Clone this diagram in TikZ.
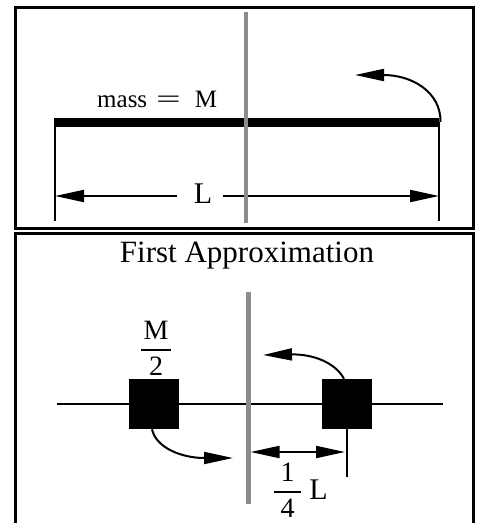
\documentclass[tikz,border=0pt]{standalone}
\usepackage{fontspec}
\setmainfont{Liberation Serif}
\usetikzlibrary{arrows.meta}
\definecolor{axisgray}{gray}{0.55}
\newcommand{\myvfrac}[3]{$\displaystyle{\hbox to #1{\hss#2\hss}\above 2pt\hbox to #1{\hss#3\hss}}$}
\begin{document}
\begin{tikzpicture}[x=1pt,y=-1pt,
  frame/.style={line width=3pt},
  axisline/.style={draw=axisgray,line width=4.5pt},
  wire/.style={line width=2pt},
  arr/.style={line width=2pt,-{Triangle[length=29pt,width=12pt]}},
  dimarr/.style={line width=2pt,{Triangle[length=29pt,width=12pt]}-{Triangle[length=29pt,width=12pt]}},
  massbox/.style={fill=black,minimum size=50pt,inner sep=0pt},
  lbl/.style={font=\fontsize{30}{36}\selectfont,inner sep=0pt,anchor=base},
  titlelbl/.style={font=\fontsize{31}{37}\selectfont,inner sep=0pt,anchor=base},
  smalllbl/.style={font=\fontsize{25}{30}\selectfont,inner sep=0pt,anchor=base west},
  fraclbl/.style={font=\fontsize{28}{33}\selectfont,inner sep=0pt}]
\useasboundingbox (0,0) rectangle (482,523);
% frames
\draw[frame] (15.5,7.5) rectangle (473.5,228);
\draw[frame] (15.5,523) -- (15.5,233) -- (473.5,233) -- (473.5,523);
% ---------- top panel ----------
\node[fill=black,minimum width=385pt,minimum height=9pt,inner sep=0pt] (rod) at (246.5,122.5) {};
\node[smalllbl] (masslbl) at (97,107) {mass\hspace{9pt}\scalebox{1.75}[1]{=}\hspace{14pt}M};
\coordinate (tlb) at (55,221);
\coordinate (trb) at (439,221);
\coordinate (tlt) at (55,122);
\coordinate (trt) at (439,122);
\draw[wire] (tlt) -- (tlb);
\draw[wire] (trt) -- (trb);
\node[lbl] (Ltop) at (203,203) {L};
\coordinate (dl1) at (177,196);
\coordinate (dl0) at (55,196);
\coordinate (dr1) at (223,196);
\coordinate (dr0) at (439,196);
\draw[arr] (dl1) -- (dl0);
\draw[arr] (dr1) -- (dr0);
\coordinate (rotS) at (440.5,122);
\coordinate (rotE) at (355,75);
\draw[arr] (rotS) .. controls (441,92) and (412,75) .. (rotE);
\draw[axisline] (246,12) -- (246,223);
% ---------- bottom panel ----------
\node[titlelbl] (title) at (247,262) {First Approximation};
\coordinate (hl) at (57,404);
\coordinate (hr) at (443,404);
\draw[wire] (hl) -- (hr);
\node[massbox] (lsq) at (153.5,404) {};
\node[massbox] (rsq) at (346.5,404) {};
\node[fraclbl] (halfm) at (156,348) {\myvfrac{30pt}{M}{2}};
\coordinate (rtick) at (346.5,477);
\draw[wire] (rsq.south) -- (rtick);
\coordinate (dimL) at (250.5,452);
\coordinate (dimR) at (345,452);
\draw[dimarr] (dimL) -- (dimR);
\node[fraclbl] (quarter) at (287.5,490) {\myvfrac{27pt}{1}{4}};
\node[lbl] (Lbot) at (318.5,499) {L};
\coordinate (rE) at (263,355);
\draw[arr] ([xshift=-2.5pt]rsq.north) .. controls (335,362) and (312,354) .. (rE);
\coordinate (lE) at (233,458);
\draw[arr] ([xshift=-1.5pt]lsq.south) .. controls (156,448) and (182,458) .. (lE);
\draw[axisline] (248.5,292) -- (248.5,504);
\end{tikzpicture}
\end{document}
